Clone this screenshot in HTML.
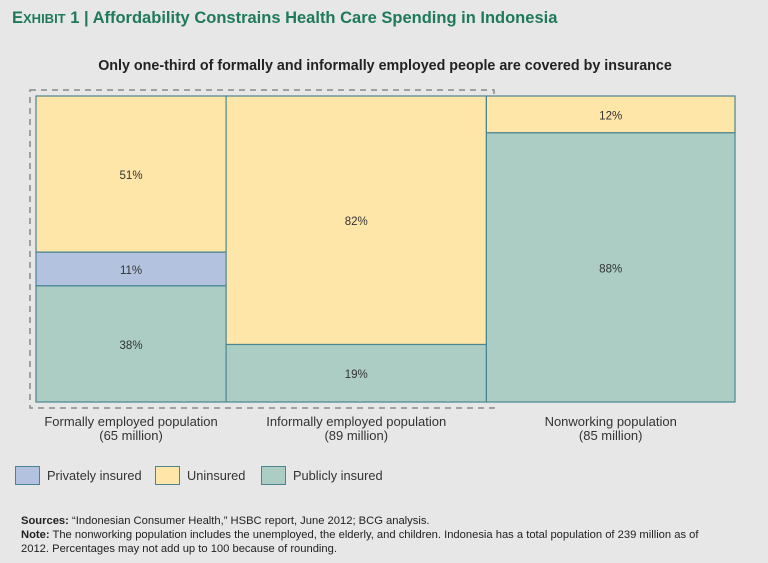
<!DOCTYPE html>
<html><head><meta charset="utf-8"><style>
body{margin:0;background:#e7e7e7;font-family:"Liberation Sans",sans-serif;}
#wrap{position:relative;width:768px;height:563px;overflow:hidden;background:#e7e7e7;}
svg text{font-family:"Liberation Sans",sans-serif;}
</style></head><body>
<div id="wrap">
<svg id="chart" width="768" height="563">
<text x="12" y="23" font-size="16.5" font-weight="bold" fill="#1e7a5a">E<tspan font-size="13">XHIBIT</tspan> 1 | Affordability Constrains Health Care Spending in Indonesia</text>
<text x="385" y="70" text-anchor="middle" font-size="14.3" font-weight="bold" fill="#222">Only one-third of formally and informally employed people are covered by insurance</text>
<rect x="30" y="90" width="464" height="318" fill="none" stroke="#888" stroke-width="1.5" stroke-dasharray="6,5"/>
<g id="bars"></g>
<g>
<rect x="15.5" y="466.5" width="24" height="18" fill="#b3c3df" stroke="#4a8593"/>
<text x="47" y="480" font-size="12.8" fill="#333">Privately insured</text>
<rect x="155.5" y="466.5" width="24" height="18" fill="#fde6a8" stroke="#4a8593"/>
<text x="187" y="480" font-size="12.8" fill="#333">Uninsured</text>
<rect x="261.5" y="466.5" width="24" height="18" fill="#abcdc3" stroke="#4a8593"/>
<text x="293" y="480" font-size="12.8" fill="#333">Publicly insured</text>
</g>
<g font-size="11.2" fill="#222">
<text x="21" y="524"><tspan font-weight="bold">Sources:</tspan> “Indonesian Consumer Health,” HSBC report, June 2012; BCG analysis.</text>
<text x="21" y="538"><tspan font-weight="bold">Note:</tspan> The nonworking population includes the unemployed, the elderly, and children. Indonesia has a total population of 239 million as of</text>
<text x="21" y="552">2012. Percentages may not add up to 100 because of rounding.</text>
</g>
</svg>
</div>
<script>
const categories=["Formally employed population","Informally employed population","Nonworking population"];
const populations=[65,89,85];
const publicShare=[38,19,88];
const privateShare=[11,0,0];
const uninsuredShare=[51,82,12];
const X0=36,X1=735,Y0=402,Y1=96;
const total=populations.reduce((a,b)=>a+b,0);
const xs=v=>X0+(X1-X0)*v/total;
const ys=v=>Y0-(Y0-Y1)*v/100;
const NS="http://www.w3.org/2000/svg";
const g=document.getElementById('bars');
function mk(t,a){const e=document.createElementNS(NS,t);for(const k in a)e.setAttribute(k,a[k]);return e;}
let cum=0;
categories.forEach((c,i)=>{
  const xa=xs(cum),xb=xs(cum+populations[i]);cum+=populations[i];
  const segs=[[publicShare[i],"#abcdc3","public"],[privateShare[i],"#b3c3df","private"],[uninsuredShare[i],"#fde6a8","uninsured"]];
  const s=segs.reduce((a,b)=>a+b[0],0);
  let acc=0;
  segs.forEach(([v,col,nm])=>{
    if(!v)return;
    const lo=acc/s*100,hi=(acc+v)/s*100;acc+=v;
    const r=mk('rect',{x:xa,y:ys(hi),width:xb-xa,height:ys(lo)-ys(hi),fill:col,stroke:"#4a8593","stroke-width":1.2});
    
    
    g.appendChild(r);
    const t=mk('text',{x:(xa+xb)/2,y:(ys(hi)+ys(lo))/2+5,"text-anchor":"middle","font-size":11.5,fill:"#333"});
    t.textContent=v+"%";
    
    
    g.appendChild(t);
  });
  const l1=mk('text',{x:(xa+xb)/2,y:426,"text-anchor":"middle","font-size":13,fill:"#333"});
  l1.textContent=c;
  
  
  g.appendChild(l1);
  const l2=mk('text',{x:(xa+xb)/2,y:440,"text-anchor":"middle","font-size":13,fill:"#333"});
  l2.textContent="("+populations[i]+" million)";
  
  
  g.appendChild(l2);
});
</script>
</body></html>
